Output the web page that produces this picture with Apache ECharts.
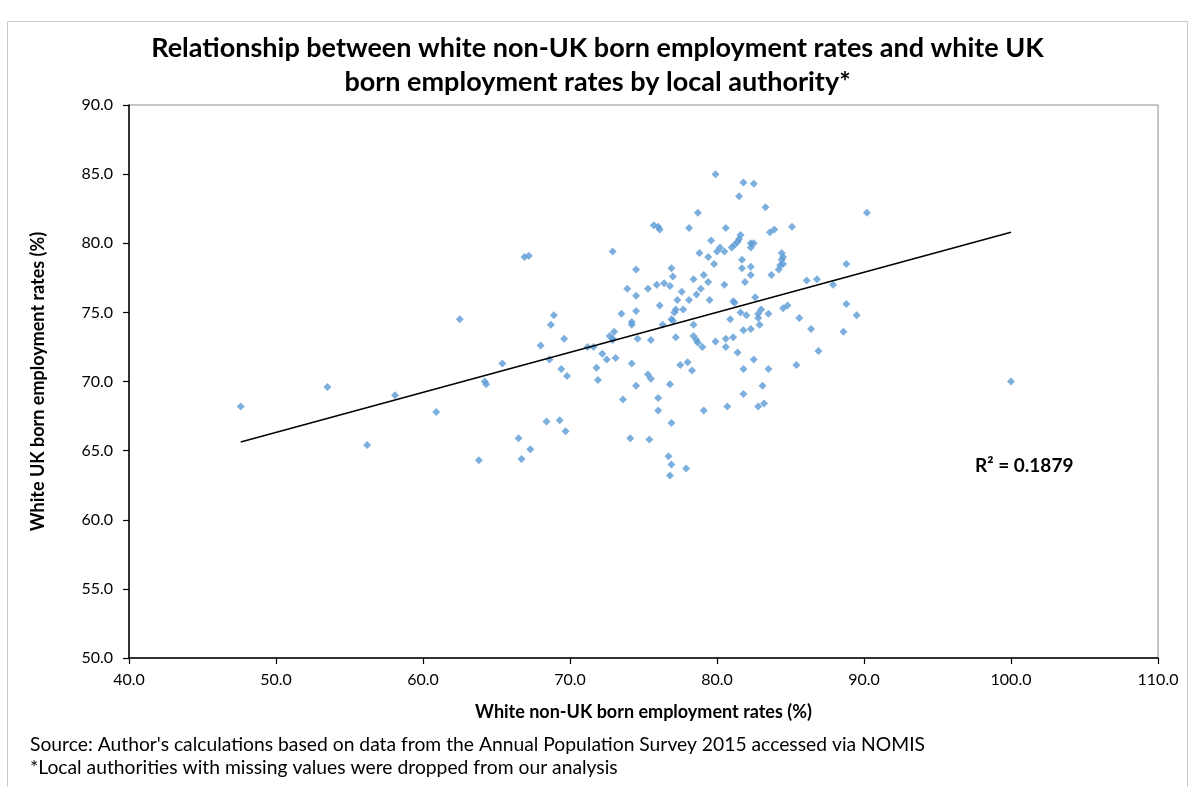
<!DOCTYPE html>
<html>
<head>
<meta charset="utf-8">
<script src="https://cdn.jsdelivr.net/npm/echarts@6/dist/echarts.min.js"></script>
<style>
  html, body { margin: 0; padding: 0; background: #ffffff; }
  #chart { width: 1195px; height: 787px; }
</style>
</head>
<body>
<div id="chart"></div>
<script>
// White non-UK born employment rate (%) per local authority
const nonUkRates = [
  47.6, 53.5, 56.2, 58.1, 60.9, 62.5, 63.8, 64.2, 64.3, 65.4,
  66.5, 66.7, 67.3, 66.9, 67.2, 68.0, 68.6, 68.7, 68.9, 68.4,
  69.3, 69.7, 69.6, 69.4, 69.8, 71.2, 71.6, 71.8, 71.9, 72.2,
  72.5, 73.1, 72.7, 72.9, 73.0, 72.9, 72.9, 73.5, 73.6, 73.9,
  74.2, 74.2, 74.2, 74.1, 74.5, 74.5, 74.5, 74.6, 74.5, 75.3,
  75.3, 75.5, 75.5, 75.4, 75.7, 76.0, 76.1, 75.9, 76.4, 76.1,
  76.0, 76.0, 76.3, 76.8, 76.9, 77.0, 76.9, 77.0, 76.8, 76.9,
  76.7, 76.9, 76.8, 77.2, 77.7, 77.1, 77.2, 77.3, 77.6, 77.5,
  78.0, 78.3, 77.9, 78.1, 78.1, 78.4, 78.4, 78.6, 78.7, 79.0,
  78.4, 78.6, 78.7, 78.8, 78.9, 79.1, 79.4, 79.4, 79.5, 79.6,
  79.8, 79.9, 79.9, 79.1, 80.2, 80.0, 80.5, 80.5, 80.6, 80.6,
  80.6, 80.7, 80.9, 81.0, 81.2, 81.4, 81.5, 81.1, 81.2, 81.1,
  81.4, 81.5, 81.6, 81.7, 81.6, 81.8, 81.8, 81.8, 81.8, 81.9,
  82.0, 82.3, 82.5, 82.3, 82.3, 82.3, 82.3, 82.5, 82.5, 82.6,
  82.8, 83.0, 82.8, 82.9, 82.8, 83.2, 83.1, 83.3, 83.5, 83.5,
  83.6, 83.9, 83.7, 84.2, 84.3, 84.5, 84.4, 84.5, 84.4, 84.5,
  84.8, 85.1, 85.4, 85.6, 86.1, 86.4, 86.8, 86.9, 87.9, 88.6,
  88.8, 88.8, 89.5, 90.2, 100.0, 81.7
];

// White UK born employment rate (%) for the same local authorities
const ukRates = [
  68.2, 69.6, 65.4, 69.0, 67.8, 74.5, 64.3, 70.0, 69.8, 71.3,
  65.9, 64.4, 65.1, 79.0, 79.1, 72.6, 71.6, 74.1, 74.8, 67.1,
  67.2, 66.4, 73.1, 70.9, 70.4, 72.5, 72.5, 71.0, 70.1, 72.0,
  71.6, 71.7, 73.3, 73.1, 73.6, 73.0, 79.4, 74.9, 68.7, 76.7,
  74.3, 74.1, 71.3, 65.9, 78.1, 76.2, 75.1, 73.1, 69.7, 76.7,
  70.5, 70.2, 73.0, 65.8, 81.3, 81.2, 81.0, 77.0, 77.1, 75.5,
  68.8, 67.9, 74.1, 76.9, 78.2, 77.6, 74.5, 74.4, 69.8, 67.0,
  64.6, 64.0, 63.2, 75.2, 75.2, 75.0, 73.2, 75.9, 76.5, 71.2,
  71.4, 70.8, 63.7, 75.9, 81.1, 77.4, 73.3, 73.0, 72.8, 72.5,
  74.1, 76.3, 82.2, 79.3, 76.7, 77.7, 79.0, 77.2, 75.9, 80.2,
  78.5, 85.0, 72.9, 67.9, 79.7, 79.4, 79.4, 77.0, 81.1, 73.1,
  72.5, 68.2, 74.5, 79.7, 79.9, 80.1, 80.3, 75.8, 75.7, 73.2,
  72.1, 83.4, 80.6, 78.8, 75.0, 73.7, 70.9, 69.1, 84.4, 77.2,
  74.8, 80.0, 80.0, 79.7, 78.3, 77.7, 73.8, 84.3, 71.6, 76.1,
  74.9, 75.2, 74.6, 74.1, 68.2, 68.4, 69.7, 82.6, 74.9, 70.9,
  80.8, 81.0, 77.7, 78.1, 78.4, 78.5, 78.8, 79.0, 79.3, 75.3,
  75.5, 81.2, 71.2, 74.6, 77.3, 73.8, 77.4, 72.2, 77.0, 73.6,
  78.5, 75.6, 74.8, 82.2, 70.0, 78.2
];

// Linear trend line end points (x, y) and its fit statistic
const trendX = [47.6, 100.0];
const trendY = [65.63, 80.80];
const rSquaredText = 'R² = 0.1879';

// Axis tick settings
const xTicks = { min: 40, max: 110, step: 10 };
const yTicks = { min: 50, max: 90, step: 5 };

const titleText = 'Relationship between white non-UK born employment rates and white UK\nborn employment rates by local authority*';
const xAxisTitle = 'White non-UK born employment rates (%)';
const yAxisTitle = 'White UK born employment rates (%)';
const sourceNote = "Source: Author's calculations based on data from the Annual Population Survey 2015 accessed via NOMIS";
const missingNote = '*Local authorities with missing values were dropped from our analysis';

const points = nonUkRates.map((x, i) => [x, ukRates[i]]);
const trendPoints = trendX.map((x, i) => [x, trendY[i]]);

const FONT = 'Lato, "Open Sans", sans-serif';
const chart = echarts.init(document.getElementById('chart'), null, { renderer: 'canvas' });

chart.setOption({
  backgroundColor: '#ffffff',
  animation: false,
  title: {
    text: titleText,
    left: 'center',
    top: 26,
    textStyle: {
      fontFamily: FONT,
      fontSize: 27,
      fontWeight: 'bold',
      color: '#000000',
      lineHeight: 34
    }
  },
  grid: {
    left: 129,
    right: 37,
    top: 105,
    bottom: 129,
    show: true,
    borderColor: '#8c8c8c',
    borderWidth: 1
  },
  xAxis: {
    type: 'value',
    min: xTicks.min,
    max: xTicks.max,
    interval: xTicks.step,
    name: xAxisTitle,
    nameLocation: 'middle',
    nameGap: 45,
    nameTextStyle: { fontFamily: FONT, fontSize: 18, fontWeight: 'bold', color: '#000' },
    axisLine: { show: true, onZero: false, lineStyle: { color: '#000', width: 1.5 } },
    axisTick: { show: true, inside: false, length: 6, lineStyle: { color: '#000', width: 1.2 } },
    splitLine: { show: false },
    axisLabel: {
      margin: 14,
      fontFamily: FONT,
      fontSize: 16,
      color: '#000',
      formatter: v => v.toFixed(1)
    }
  },
  yAxis: {
    type: 'value',
    min: yTicks.min,
    max: yTicks.max,
    interval: yTicks.step,
    name: yAxisTitle,
    nameLocation: 'middle',
    nameGap: 82,
    nameRotate: 90,
    nameTextStyle: { fontFamily: FONT, fontSize: 18, fontWeight: 'bold', color: '#000' },
    axisLine: { show: true, onZero: false, lineStyle: { color: '#000', width: 1.5 } },
    axisTick: { show: true, inside: false, length: 6, lineStyle: { color: '#000', width: 1.2 } },
    splitLine: { show: false },
    axisLabel: {
      margin: 16,
      fontFamily: FONT,
      fontSize: 16,
      color: '#000',
      formatter: v => v.toFixed(1)
    }
  },
  series: [
    {
      name: 'Local authorities',
      type: 'scatter',
      symbol: 'diamond',
      symbolSize: 8,
      itemStyle: { color: '#5b9bd5' },
      data: points,
      z: 3
    },
    {
      name: 'Linear trend',
      type: 'line',
      data: trendPoints,
      symbol: 'none',
      lineStyle: { color: '#000000', width: 1.5 },
      z: 4
    }
  ],
  graphic: [
    {
      type: 'rect',
      shape: { x: 7.5, y: 21.5, width: 1180, height: 800 },
      style: { fill: 'none', stroke: '#c8c8c8', lineWidth: 1 },
      silent: true,
      z: -10
    },
    {
      type: 'text',
      left: 975,
      top: 456,
      style: {
        text: rSquaredText,
        font: 'bold 19px ' + FONT,
        fill: '#000'
      }
    },
    {
      type: 'text',
      left: 30,
      top: 735,
      style: {
        text: sourceNote,
        font: '19.3px ' + FONT,
        fill: '#000'
      }
    },
    {
      type: 'text',
      left: 30,
      top: 758,
      style: {
        text: missingNote,
        font: '19.3px ' + FONT,
        fill: '#000'
      }
    }
  ]
});
</script>
</body>
</html>
